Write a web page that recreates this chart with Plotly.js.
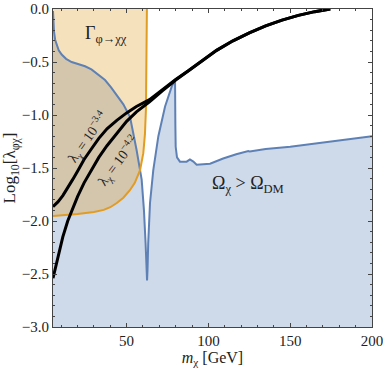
<!DOCTYPE html>
<html>
<head>
<meta charset="utf-8">
<script src="https://cdn.plot.ly/plotly-3.0.1.min.js"></script>
<style>
  html, body { margin: 0; padding: 0; background: #fff; }
  #chart { width: 383px; height: 370px; }
</style>
</head>
<body>
<div id="chart"></div>
<script>
// relic density boundary (Omega_chi = Omega_DM), excluded region below
const relicX = [5, 5.2, 5.6, 6.3, 7.2, 8.5, 10.3, 13, 16.4, 20, 24.6, 28.5, 32.7, 36.8, 40.5, 44, 48, 52.1, 56.1, 59.2, 60.6, 61.6, 62.2, 62.5, 62.8, 63.2, 64.3, 66.3, 69.4, 73.5, 77.6, 79.0, 79.6, 79.8, 80.0, 80.8, 82.6, 86.7, 88.7, 90.8, 92.8, 101, 109, 117, 124.4, 125.3, 135, 150, 165, 180.4, 200];
const relicY = [-0.02, -0.09, -0.21, -0.29, -0.34, -0.39, -0.43, -0.47, -0.50, -0.52, -0.54, -0.57, -0.62, -0.67, -0.74, -0.81, -0.90, -1.02, -1.33, -1.61, -1.90, -2.21, -2.45, -2.56, -2.45, -2.21, -1.83, -1.52, -1.20, -0.92, -0.73, -0.69, -0.67, -1.10, -1.30, -1.40, -1.44, -1.44, -1.42, -1.44, -1.47, -1.46, -1.41, -1.37, -1.34, -1.345, -1.32, -1.30, -1.27, -1.24, -1.20];

// invisible decay width bound, excluded region above
const decayX = [5, 10, 20, 30, 36, 40, 44, 48, 52, 55, 58.2, 60.2, 61.2, 61.8, 62.1, 62.3, 62.4];
const decayY = [-1.953, -1.948, -1.935, -1.915, -1.895, -1.87, -1.83, -1.78, -1.71, -1.64, -1.52, -1.36, -1.18, -0.95, -0.6, -0.2, 0];

// lambda_chi contours (they merge above ~85 GeV)
const lamX = [5, 8, 11, 14, 17, 20, 24, 28, 33, 38, 44, 50, 56, 64, 72, 80, 88];
const lam34Y = [-1.865, -1.82, -1.76, -1.69, -1.61, -1.53, -1.42, -1.33, -1.22, -1.13, -1.05, -0.98, -0.92, -0.855, -0.76, -0.665, -0.58];
const lam42Y = [-2.54, -2.33, -2.15, -2.00, -1.88, -1.77, -1.64, -1.53, -1.40, -1.29, -1.17, -1.06, -0.97, -0.875, -0.77, -0.67, -0.58];
const tailX = [95, 105, 115, 125, 135, 145, 155, 165, 174.5];
const tailY = [-0.50, -0.39, -0.30, -0.225, -0.16, -0.105, -0.06, -0.025, 0.0];

const xRange = [5, 200];
const yRange = [-3, 0];

const blue = '#5E81B5';
const orange = '#E19C24';
const ink = '#222';
const serif = 'Liberation Serif, Times New Roman, serif';

// fills first, outlines on top so the blue edge stays blue under the orange shade
const traces = [
    { x: xRange, y: [yRange[0], yRange[0]], mode: 'lines', line: { width: 0 }, hoverinfo: 'skip' },
    { x: relicX, y: relicY, mode: 'lines', fill: 'tonexty', fillcolor: 'rgba(94,129,181,0.3)', line: { width: 0 } },
    { x: [decayX[0], decayX[decayX.length - 1]], y: [yRange[1], yRange[1]], mode: 'lines', line: { width: 0 }, hoverinfo: 'skip' },
    { x: decayX, y: decayY, mode: 'lines', fill: 'tonexty', fillcolor: 'rgba(224,156,36,0.3)', line: { width: 0 } },
    { x: relicX, y: relicY, mode: 'lines', line: { color: blue, width: 2 } },
    { x: decayX, y: decayY, mode: 'lines', line: { color: orange, width: 2 } },
    { x: lamX.concat(tailX), y: lam34Y.concat(tailY), mode: 'lines', line: { color: '#000', width: 3 } },
    { x: lamX.concat(tailX), y: lam42Y.concat(tailY), mode: 'lines', line: { color: '#000', width: 3 } }
];

const axisCommon = {
    showgrid: false, zeroline: false, showline: true, mirror: 'ticks',
    linecolor: '#444', linewidth: 1, ticks: 'inside', ticklen: 4, tickcolor: '#444',
    ticklabeloverflow: 'allow',
    tickfont: { family: serif, size: 15, color: ink }
};

const layout = {
    width: 383, height: 370,
    margin: { l: 53, r: 11, t: 9, b: 43 },
    showlegend: false,
    paper_bgcolor: '#fff', plot_bgcolor: '#fff',
    xaxis: Object.assign({}, axisCommon, {
        range: xRange, tickvals: [50, 100, 150, 200],
        minor: { dtick: 10, tick0: 0, ticks: 'inside', ticklen: 2, tickcolor: '#444' },
        title: { text: '<i>m</i><sub>χ</sub> [GeV]', font: { family: serif, size: 16, color: ink }, standoff: 3 }
    }),
    yaxis: Object.assign({}, axisCommon, {
        range: yRange, dtick: 0.5, tickformat: '.1f',
        minor: { dtick: 0.1, ticks: 'inside', ticklen: 2, tickcolor: '#444' },
        title: { text: 'Log<sub>10</sub>[λ<sub>φχ</sub>]', font: { family: serif, size: 17, color: ink }, standoff: 1 }
    }),
    annotations: [
        { x: 37.3, y: -0.245, xref: 'x', yref: 'y', showarrow: false,
          text: 'Γ<sub>φ→χχ</sub>', font: { family: serif, size: 18, color: ink } },
        { x: 124.2, y: -1.66, xref: 'x', yref: 'y', showarrow: false,
          text: 'Ω<sub>χ</sub> > Ω<sub>DM</sub>', font: { family: serif, size: 18, color: ink } },
        { x: 26.3, y: -1.21, xref: 'x', yref: 'y', showarrow: false, textangle: -55,
          text: 'λ<sub>χ</sub> = 10<sup>−3.4</sup>', font: { family: serif, size: 14, color: ink } },
        { x: 44.6, y: -1.43, xref: 'x', yref: 'y', showarrow: false, textangle: -53,
          text: 'λ<sub>χ</sub> = 10<sup>−4.2</sup>', font: { family: serif, size: 14, color: ink } }
    ]
};

Plotly.newPlot('chart', traces, layout, { staticPlot: true, displayModeBar: false });
</script>
</body>
</html>
